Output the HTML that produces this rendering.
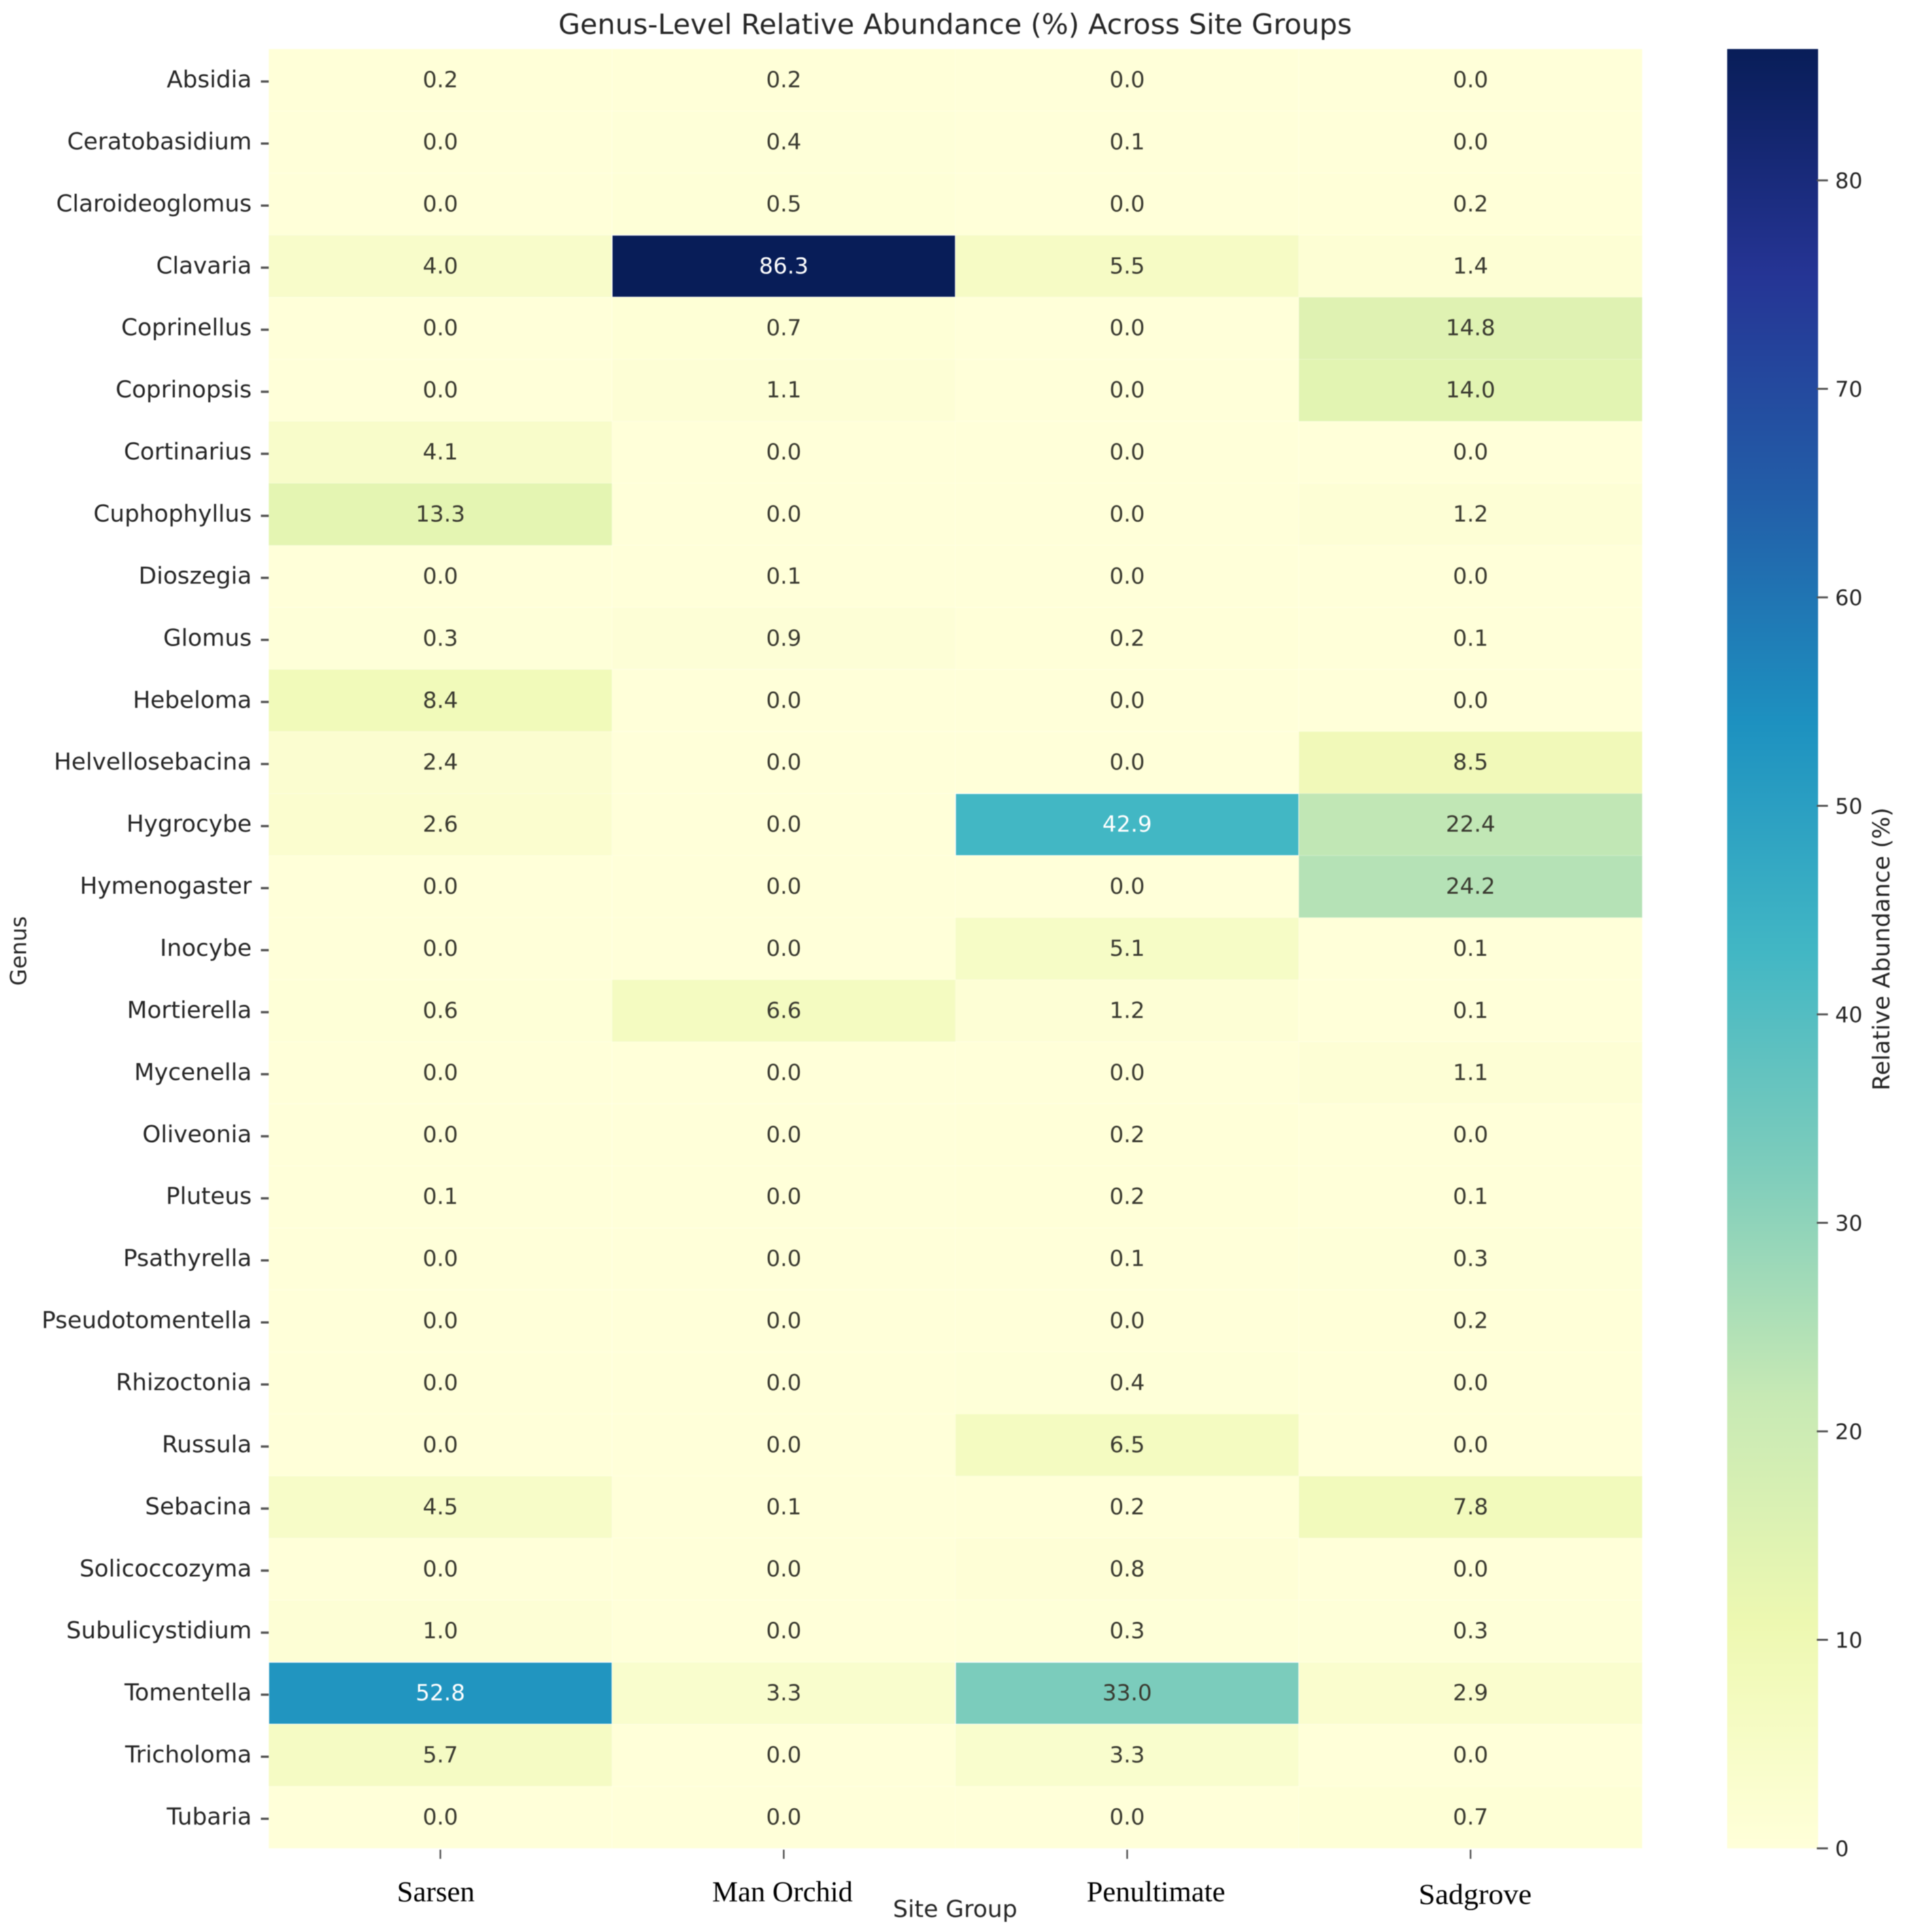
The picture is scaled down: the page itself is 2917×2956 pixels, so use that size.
<!DOCTYPE html>
<html>
<head>
<meta charset="utf-8">
<title>Genus-Level Relative Abundance</title>
<style>
html,body{margin:0;padding:0;background:#fff;}
svg{display:block;filter:blur(0.9px);}
text{font-family:"DejaVu Sans","Liberation Sans",sans-serif;fill:#262626;}
</style>
</head>
<body>
<svg id="chart" xmlns="http://www.w3.org/2000/svg" width="2917" height="2956" viewBox="0 0 2917 2956">
<defs><linearGradient id="cbar-gradient" x1="0" y1="1" x2="0" y2="0"></linearGradient></defs>
<rect width="2917" height="2956" fill="#fff"/>
<text x="1461" y="52" text-anchor="middle" font-size="43">Genus-Level Relative Abundance (%) Across Site Groups</text>
<text transform="translate(40,1455) rotate(-90)" text-anchor="middle" font-size="33.5">Genus</text>
<text x="1461" y="2933" text-anchor="middle" font-size="36">Site Group</text>
<text transform="translate(2890,1452) rotate(-90)" text-anchor="middle" font-size="36">Relative Abundance (%)</text>
<g id="cells"></g>
<g id="annots"></g>
<g id="yaxis"></g>
<g id="xaxis"></g>
<g id="cbar"></g>
</svg>
<script>
const genera = ["Absidia","Ceratobasidium","Claroideoglomus","Clavaria","Coprinellus","Coprinopsis","Cortinarius","Cuphophyllus","Dioszegia","Glomus","Hebeloma","Helvellosebacina","Hygrocybe","Hymenogaster","Inocybe","Mortierella","Mycenella","Oliveonia","Pluteus","Psathyrella","Pseudotomentella","Rhizoctonia","Russula","Sebacina","Solicoccozyma","Subulicystidium","Tomentella","Tricholoma","Tubaria"];
const sites = ["Sarsen","Man Orchid","Penultimate","Sadgrove"];
const sarsen = [0.2,0.0,0.0,4.0,0.0,0.0,4.1,13.3,0.0,0.3,8.4,2.4,2.6,0.0,0.0,0.6,0.0,0.0,0.1,0.0,0.0,0.0,0.0,4.5,0.0,1.0,52.8,5.7,0.0];
const manOrchid = [0.2,0.4,0.5,86.3,0.7,1.1,0.0,0.0,0.1,0.9,0.0,0.0,0.0,0.0,0.0,6.6,0.0,0.0,0.0,0.0,0.0,0.0,0.0,0.1,0.0,0.0,3.3,0.0,0.0];
const penultimate = [0.0,0.1,0.0,5.5,0.0,0.0,0.0,0.0,0.0,0.2,0.0,0.0,42.9,0.0,5.1,1.2,0.0,0.2,0.2,0.1,0.0,0.4,6.5,0.2,0.8,0.3,33.0,3.3,0.0];
const sadgrove = [0.0,0.0,0.2,1.4,14.8,14.0,0.0,1.2,0.0,0.1,0.0,8.5,22.4,24.2,0.1,0.1,1.1,0.0,0.1,0.3,0.2,0.0,0.0,7.8,0.0,0.3,2.9,0.0,0.7];
const colorbarTicks = [0,10,20,30,40,50,60,70,80];
const colormapStops = ["#ffffd9","#edf8b1","#c7e9b4","#7fcdbb","#41b6c4","#1d91c0","#225ea8","#253494","#081d58"];

const series = [sarsen, manOrchid, penultimate, sadgrove];
const NS = "http://www.w3.org/2000/svg";
const plot = {left:411, right:2512, top:75, bottom:2828};
const bar = {left:2642, right:2781};
const vmin = 0;
const vmax = Math.max(...series.map(s => Math.max(...s)));
const colWidth = (plot.right - plot.left) / sites.length;
const rowHeight = (plot.bottom - plot.top) / genera.length;
const xPos = i => plot.left + i * colWidth;
const yPos = i => plot.top + i * rowHeight;
const barY = v => plot.bottom - (v - vmin) / (vmax - vmin) * (plot.bottom - plot.top);

function hexToRgb(h){ return [1,3,5].map(i => parseInt(h.slice(i,i+2),16)); }
function colorFor(v){
  const t = Math.min(1, Math.max(0, (v - vmin) / (vmax - vmin))) * (colormapStops.length - 1);
  const i = Math.min(colormapStops.length - 2, Math.floor(t));
  const f = t - i;
  const a = hexToRgb(colormapStops[i]);
  const b = hexToRgb(colormapStops[i + 1]);
  return "rgb(" + a.map((c, k) => Math.round(c + (b[k] - c) * f)).join(",") + ")";
}
function make(tag, parent, attrs, text){
  const el = document.createElementNS(NS, tag);
  for (const k in attrs) el.setAttribute(k, attrs[k]);
  if (text !== undefined) el.textContent = text;
  parent.appendChild(el);
  return el;
}
const cellsG = document.getElementById("cells");
const annotsG = document.getElementById("annots");
const yG = document.getElementById("yaxis");
const xG = document.getElementById("xaxis");
const cbarG = document.getElementById("cbar");

series.forEach((values, c) => {
  values.forEach((v, r) => {
    const rect = make("rect", cellsG, {x:xPos(c), y:yPos(r), width:colWidth, height:rowHeight, fill:colorFor(v), stroke:"#fff", "stroke-opacity":v > 30 ? 0.9 : 0.12, "stroke-width":1.5});
    
    
    const label = make("text", annotsG, {x:xPos(c) + colWidth / 2, y:yPos(r) + rowHeight / 2 + 11, "text-anchor":"middle", "font-size":34, style:"fill:" + (v > 40 ? "#ffffff" : "#3a3a30")}, v.toFixed(1));
    
    
  });
});

genera.forEach((g, r) => {
  const cy = yPos(r) + rowHeight / 2;
  const tick = make("rect", yG, {x:399, y:cy + 0.5, width:12, height:3.5, fill:"#555"});
  
  
  const label = make("text", yG, {x:385, y:cy + 11, "text-anchor":"end", "font-size":35.7}, g);
  
  
});

const siteLabelWidths = [119, 215, 212, 173];
const siteLabelOffsets = [-7, -2, 44, 7];
const siteLabelBaseDrop = [0, 0, 0, 4];
sites.forEach((s, c) => {
  const cx = xPos(c) + colWidth / 2;
  const tick = make("rect", xG, {x:cx - 1.25, y:2830, width:2.5, height:14, fill:"#555"});
  
  
  const label = make("text", xG, {x:cx + siteLabelOffsets[c], y:2909 + siteLabelBaseDrop[c], "text-anchor":"middle", "font-size":44, textLength:siteLabelWidths[c], lengthAdjust:"spacingAndGlyphs", style:'font-family:"Liberation Serif",serif;fill:#000'}, s);
  
  
});

const grad = document.getElementById("cbar-gradient");
colormapStops.forEach((col, i) => {
  make("stop", grad, {offset:i / (colormapStops.length - 1), "stop-color":col});
});
const barRect = make("rect", cbarG, {x:bar.left, y:plot.top, width:bar.right - bar.left, height:plot.bottom - plot.top, fill:"url(#cbar-gradient)"});


colorbarTicks.forEach(v => {
  const y = barY(v);
  const tick = make("rect", cbarG, {x:bar.right - 2, y:y - 1.5, width:17, height:3, fill:"#555"});
  
  
  const label = make("text", cbarG, {x:2807, y:y + 12, "font-size":33}, String(v));
  
  
});
</script>
</body>
</html>
